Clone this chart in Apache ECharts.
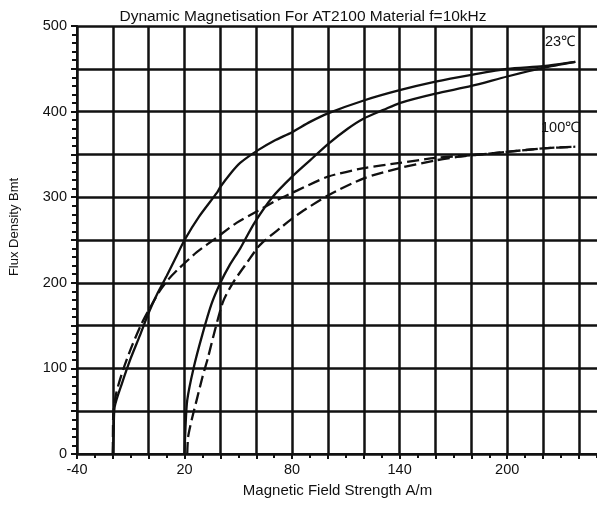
<!DOCTYPE html>
<html>
<head>
<meta charset="utf-8">
<script src="https://cdn.jsdelivr.net/npm/echarts@6/dist/echarts.min.js"></script>
<style>
  html, body { margin: 0; padding: 0; background: #fff; overflow: hidden; }
  /* the canvas is a little wider than the window so the rules run off the right edge */
  #chart { width: 620px; height: 506px; }
</style>
</head>
<body>
<div id="chart"></div>
<script>
// Magnetisation curves for AT2100, f = 10 kHz
// Field strength H (A/m) and flux density B (mT) for each branch.
const h23Rising  = [-20, -19.5, -19, -15, -10, -5, 0, 5, 10, 15, 20, 28, 38, 40, 45, 51, 61, 70, 80, 90, 100, 120, 140, 160, 180, 200, 220, 238];
const b23Rising  = [0, 30, 55, 82, 112, 138, 165, 188, 208, 229, 250, 277, 305, 312, 326, 340, 355, 366, 376, 388, 398, 413, 425, 435, 443, 450, 453, 458];

const h23Return  = [20, 20.5, 21.5, 25, 30, 35, 40, 45, 51, 59, 69, 80, 90, 100, 111, 120, 131, 140, 160, 180, 200, 220, 238];
const b23Return  = [0, 30, 63, 100, 140, 175, 200, 220, 240, 270, 300, 324, 343, 362, 380, 392, 402, 410, 421, 430, 441, 451, 458];

const h100Rising = [-20, -19.8, -18, -14, -9, -4, 0, 6, 11, 16, 27, 38, 49, 60, 72, 83, 100, 120, 140, 160, 180, 200, 220, 238];
const b100Rising = [0, 45, 72, 100, 128, 152, 168, 190, 204, 215, 236, 253, 270, 283, 297, 308, 324, 334, 340, 346, 349, 353, 357, 359];

const h100Return = [21.5, 22, 24, 27, 30, 33, 37, 41.5, 47, 55, 62, 74, 84, 100, 120, 140, 160, 172, 180, 200, 220, 238];
const b100Return = [0, 20, 40, 65, 90, 112, 145, 178, 200, 224, 244, 265, 281, 302, 322, 334, 343, 347, 349, 353, 357, 359];

// Axis tick labels
const xTickLabels = [-40, 20, 80, 140, 200];
const yTickLabels = [0, 100, 200, 300, 400, 500];

const seriesLabels = ['23℃', '100℃'];

const pairs = (xs, ys) => xs.map((x, i) => [x, ys[i]]);

const ink = '#111';
const fontFamily = '"Liberation Sans", Arial, sans-serif';

const solid = { color: ink, width: 2.3, type: 'solid' };
const dashed = { color: ink, width: 2.3, type: [12, 5] };

function curve(name, xs, ys, style) {
  return {
    name: name,
    type: 'line',
    data: pairs(xs, ys),
    smooth: 0.25,
    symbol: 'none',
    lineStyle: style,
    silent: true,
    animation: false
  };
}

const chart = echarts.init(document.getElementById('chart'), null, { renderer: 'canvas' });

chart.setOption({
  backgroundColor: '#fff',
  animation: false,
  title: {
    text: 'Dynamic Magnetisation For AT2100 Material f=10kHz',
    left: 298,
    textAlign: 'center',
    top: 4,
    textStyle: { fontFamily: fontFamily, fontSize: 15.5, fontWeight: 'normal', color: ink }
  },
  grid: { left: 77, top: 26, width: 527, height: 428, containLabel: false },
  xAxis: {
    type: 'value',
    min: -40,
    max: 254,
    interval: 20,
    name: 'Magnetic Field Strength A/m',
    nameLocation: 'middle',
    nameGap: 29,
    nameTextStyle: { fontFamily: fontFamily, fontSize: 15, color: ink, padding: [0, 6, 0, 0] },
    axisLine: { show: true, onZero: false, lineStyle: { color: ink, width: 2 } },
    axisTick: { show: true, length: 5, lineStyle: { color: ink, width: 2 } },
    minorTick: { show: true, splitNumber: 2, length: 4, lineStyle: { color: ink, width: 2 } },
    splitLine: { show: true, lineStyle: { color: ink, width: 2.5 } },
    axisLabel: {
      margin: 8,
      fontFamily: fontFamily,
      fontSize: 14.5,
      color: ink,
      formatter: v => (xTickLabels.indexOf(v) >= 0 ? String(v) : '')
    }
  },
  yAxis: {
    type: 'value',
    min: 0,
    max: 500,
    interval: 50,
    name: 'Flux Density Bmt',
    nameLocation: 'middle',
    nameGap: 56,
    nameTextStyle: { fontFamily: fontFamily, fontSize: 13, color: ink, padding: [0, 0, 0, 26] },
    axisLine: { show: true, onZero: false, lineStyle: { color: ink, width: 2 } },
    axisTick: { show: true, length: 6, lineStyle: { color: ink, width: 2 } },
    minorTick: { show: true, splitNumber: 5, length: 5, lineStyle: { color: ink, width: 2 } },
    splitLine: { show: true, lineStyle: { color: ink, width: 2.5 } },
    axisLabel: {
      margin: 10,
      fontFamily: fontFamily,
      fontSize: 14.5,
      color: ink,
      formatter: v => (yTickLabels.indexOf(v) >= 0 ? String(v) : '')
    }
  },
  graphic: [
    { type: 'text', left: 545, top: 34, style: { text: seriesLabels[0], font: '14.5px ' + fontFamily, fill: ink } },
    { type: 'text', left: 541, top: 120, style: { text: seriesLabels[1], font: '14.5px ' + fontFamily, fill: ink } }
  ],
  series: [
    curve('23℃ rising', h23Rising, b23Rising, solid),
    curve('23℃ return', h23Return, b23Return, solid),
    curve('100℃ rising', h100Rising, b100Rising, dashed),
    curve('100℃ return', h100Return, b100Return, dashed)
  ]
});
</script>
</body>
</html>
